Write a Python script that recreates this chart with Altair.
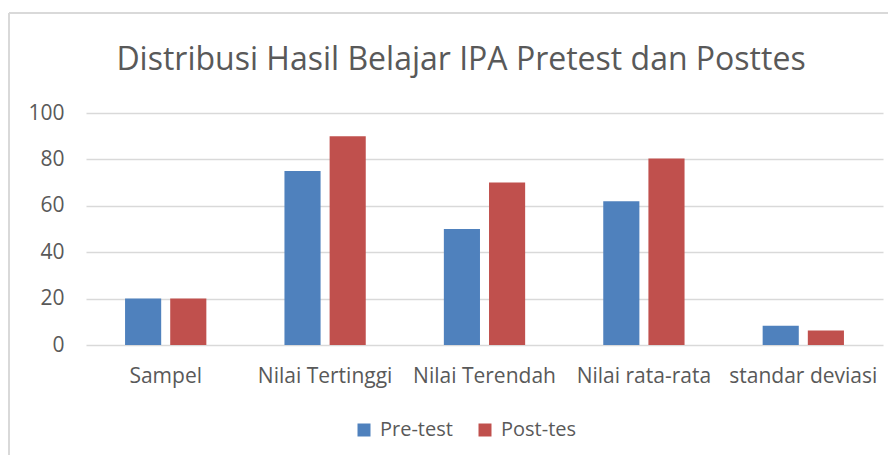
import altair as alt
import pandas as pd

categories = ["Sampel", "Nilai Tertinggi", "Nilai Terendah", "Nilai rata-rata", "standar deviasi"]
pre_test = [20, 75, 50, 62, 8.3]
post_tes = [20, 90, 70, 80.4, 6.2]
series = ["Pre-test", "Post-tes"]
colors = ["#4F81BD", "#C0504D"]
y_ticks = [0, 20, 40, 60, 80, 100]
title_text = "Distribusi Hasil Belajar IPA Pretest dan Posttes"

rows = []
for c, a, b in zip(categories, pre_test, post_tes):
    rows.append({"kategori": c, "seri": series[0], "nilai": a})
    rows.append({"kategori": c, "seri": series[1], "nilai": b})
df = pd.DataFrame(rows)

FONT = "Open Sans"
TXT = "#595959"
FS = 21

bars = alt.Chart(df).mark_bar().encode(
    x=alt.X("kategori:N", sort=categories, title=None,
            scale=alt.Scale(paddingInner=0.49, paddingOuter=0.245),
            axis=alt.Axis(labelAngle=0, labelFont=FONT, labelFontSize=FS, labelColor=TXT,
                          labelPadding=20, ticks=False, domain=False, grid=False)),
    xOffset=alt.XOffset("seri:N", sort=series, scale=alt.Scale(paddingInner=0.2, paddingOuter=0)),
    y=alt.Y("nilai:Q", title=None, scale=alt.Scale(domain=[0, 100], nice=False),
            axis=alt.Axis(values=y_ticks, labelFont=FONT, labelFontSize=FS, labelColor=TXT,
                          labelPadding=22, ticks=False, domain=False, grid=True,
                          gridColor="#D9D9D9", gridWidth=1.3)),
    color=alt.Color("seri:N", sort=series, scale=alt.Scale(domain=series, range=colors),
                    legend=alt.Legend(title=None, orient="none", direction="horizontal",
                                      legendX=268, legendY=307, symbolType="square",
                                      symbolSize=169, symbolStrokeWidth=0, labelFont=FONT,
                                      labelFontSize=20, labelColor=TXT, labelOffset=6,
                                      columnPadding=22)),
)

frame_left = alt.Chart(df).mark_rule(color="#D9D9D9", strokeWidth=1.3, clip=False).encode(
    x=alt.value(-77), y=alt.value(-100), y2=alt.value(345))
frame_top = alt.Chart(df).mark_rule(color="#D9D9D9", strokeWidth=1.3, clip=False).encode(
    x=alt.value(-77), x2=alt.value(812), y=alt.value(-100))

title = alt.Chart(pd.DataFrame({"t": [title_text]})).mark_text(
    font=FONT, fontSize=32, color=TXT, align="center", baseline="alphabetic"
).encode(x=alt.value(375), y=alt.value(-43), text="t:N")

chart = alt.layer(frame_left, frame_top, title, bars).properties(
    width=797, height=232,
    autosize=alt.AutoSizeParams(type="none"),
    padding={"left": 78, "top": 105, "right": 5, "bottom": 110},
).configure_view(stroke=None)

chart.save("out.html", embed_options={"renderer": "svg", "actions": False})
